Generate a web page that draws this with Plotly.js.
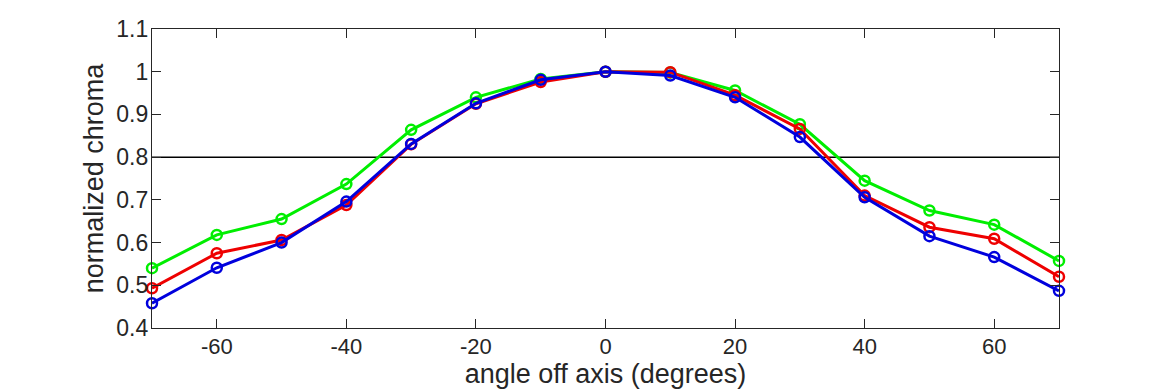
<!DOCTYPE html>
<html>
<head>
<meta charset="utf-8">
<script src="https://cdn.plot.ly/plotly-3.0.1.min.js"></script>
<style>html,body{margin:0;padding:0;background:#fff;}#chart{width:1170px;height:390px;}</style>
</head>
<body>
<div id="chart"></div>
<script>
const angles = [-70, -60, -50, -40, -30, -20, -10, 0, 10, 20, 30, 40, 50, 60, 70];
const redValues   = [0.493, 0.575, 0.606, 0.688, 0.830, 0.925, 0.976, 1.0, 0.999, 0.945, 0.866, 0.710, 0.636, 0.609, 0.520];
const greenValues = [0.540, 0.618, 0.655, 0.737, 0.864, 0.940, 0.983, 1.0, 0.998, 0.956, 0.877, 0.745, 0.675, 0.642, 0.557];
const blueValues  = [0.458, 0.541, 0.600, 0.696, 0.831, 0.926, 0.981, 1.0, 0.991, 0.940, 0.847, 0.706, 0.615, 0.566, 0.487];
const xTicks = [-60, -40, -20, 0, 20, 40, 60];
const xTickLabels = ['-60', '-40', '-20', '0', '20', '40', '60'];
const yTicks = [0.4, 0.5, 0.6, 0.7, 0.8, 0.9, 1, 1.1];
const yTickLabels = ['0.4', '0.5', '0.6', '0.7', '0.8', '0.9', '1', '1.1'];
const thresholdValue = 0.8;

function series(y, color) {
  return {
    x: angles, y: y, type: 'scatter', mode: 'lines+markers',
    line: {color: color, width: 3},
    marker: {symbol: 'circle-open', size: 10, color: color, line: {width: 2.5, color: color}},
    hoverinfo: 'skip', cliponaxis: false
  };
}

const data = [
  series(greenValues, '#00ee00'),
  series(redValues, '#ee0000'),
  series(blueValues, '#0000dd')
];

const fam = 'Liberation Sans, Arial, sans-serif';
const tickFont = {family: fam, size: 22, color: '#262626'};
const titleFont = {family: fam, size: 27, color: '#262626'};

const layout = {
  width: 1170, height: 390,
  margin: {l: 152, r: 111, t: 29, b: 62},
  paper_bgcolor: '#fff', plot_bgcolor: '#fff',
  showlegend: false,
  font: tickFont,
  xaxis: {
    range: [-70, 70], tickvals: xTicks, ticktext: xTickLabels, ticks: 'inside', ticklen: 9, tickwidth: 1, tickcolor: '#262626',
    showline: true, linecolor: '#262626', linewidth: 1.2, mirror: 'ticks', showgrid: false, zeroline: false,
    tickfont: tickFont, ticklabelstandoff: -2,
    title: {text: 'angle off axis (degrees)', font: titleFont, standoff: 2}
  },
  yaxis: {
    range: [0.4, 1.1], tickvals: yTicks, ticktext: yTickLabels, ticks: 'inside', ticklen: 9, tickwidth: 1, tickcolor: '#262626',
    showline: true, linecolor: '#262626', linewidth: 1.2, mirror: 'ticks', showgrid: false, zeroline: false,
    tickfont: {family: fam, size: 23, color: '#262626'}, ticklabelstandoff: -2,
    title: {text: 'normalized chroma', font: titleFont, standoff: 4}
  },
  shapes: [{type: 'line', xref: 'paper', x0: 0, x1: 1, yref: 'y', y0: thresholdValue, y1: thresholdValue,
            line: {color: '#000', width: 1.5}, layer: 'below'}]
};

Plotly.newPlot('chart', data, layout, {staticPlot: true, displayModeBar: false});
</script>
</body>
</html>
